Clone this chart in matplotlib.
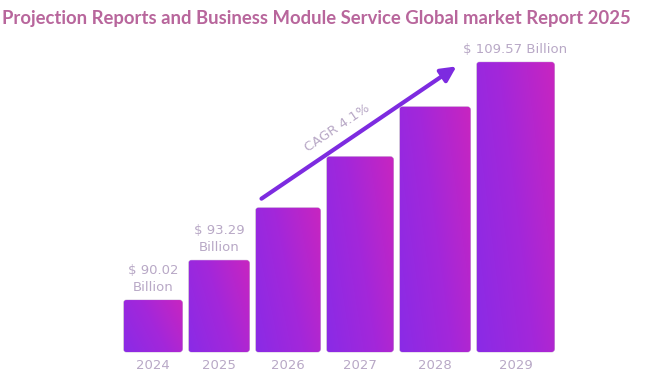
import matplotlib.pyplot as plt
import numpy as np
from matplotlib.patches import FancyBboxPatch
from matplotlib.colors import LinearSegmentedColormap

# data
years = ["2024", "2025", "2026", "2027", "2028", "2029"]
market_size = [90.02, 93.29, 97.6, 101.8, 105.9, 109.57]
value_labels = {0: "$ 90.02\nBillion", 1: "$ 93.29\nBillion", 5: "$ 109.57 Billion"}
cagr_text = "CAGR 4.1%"
title = "Projection Reports and Business Module Service Global market Report 2025"

# layout (bars get a bit wider to the right, like the original)
bar_w = np.array([59, 61, 65, 67, 71, 78])
gap = 6
x0 = 123.5
lefts = x0 + np.concatenate([[0], np.cumsum(bar_w[:-1] + gap)])
base = 85.75
px_per_unit = 12.17

fig = plt.figure(figsize=(6.47, 3.86), dpi=100)
ax = fig.add_axes([0, 0, 1, 1])
ax.set_xlim(0, 647)
ax.set_ylim(base - 34 / px_per_unit, base + 352 / px_per_unit)
ax.axis("off")

cmap = LinearSegmentedColormap.from_list("bar", ["#8a2be6", "#a327da", "#c825c0"])
yy, xx = np.mgrid[0:1:100j, 0:1:100j]
grad = 0.75 * xx + 0.35 * (1 - yy)

for i, v in enumerate(market_size):
    l, w = lefts[i], bar_w[i]
    patch = FancyBboxPatch((l, base), w, v - base,
                           boxstyle="round,pad=0,rounding_size=3",
                           mutation_aspect=1 / px_per_unit,
                           facecolor="none", edgecolor="#c9b6d6", linewidth=0.6)
    ax.add_patch(patch)
    im = ax.imshow(grad, cmap=cmap, extent=(l, l + w, base, v), origin="upper",
                   aspect="auto", interpolation="bilinear", zorder=1)
    im.set_clip_path(patch)
    ax.text(l + w / 2, base - 14 / px_per_unit, years[i], ha="center", va="center",
            fontsize=9.5, color="#b8a8c6", family="DejaVu Sans")
    if i in value_labels:
        ax.text(l + w / 2, v + 6 / px_per_unit, value_labels[i], ha="center", va="bottom",
                fontsize=9.5, color="#b8a8c6", linespacing=1.45, family="DejaVu Sans")

# growth arrow
ax.annotate("", xy=(lefts[5] - 20, market_size[5] - 0.35),
            xytext=(lefts[2] + 6, market_size[2] + 0.75),
            arrowprops=dict(arrowstyle="-|>,head_length=0.9,head_width=0.45",
                            color="#7d2be0", lw=3, shrinkA=0, shrinkB=0))
ax.text(337, base + (352 - 128) / px_per_unit, cagr_text, rotation=34, ha="center", va="center",
        fontsize=9.5, color="#b8a8c6", family="DejaVu Sans")

fig.text(0.003, 0.953, title, ha="left", va="center", fontsize=13.35, fontweight="bold",
         color="#b8669c", family="Lato")

fig.savefig("out.png", dpi=100)
